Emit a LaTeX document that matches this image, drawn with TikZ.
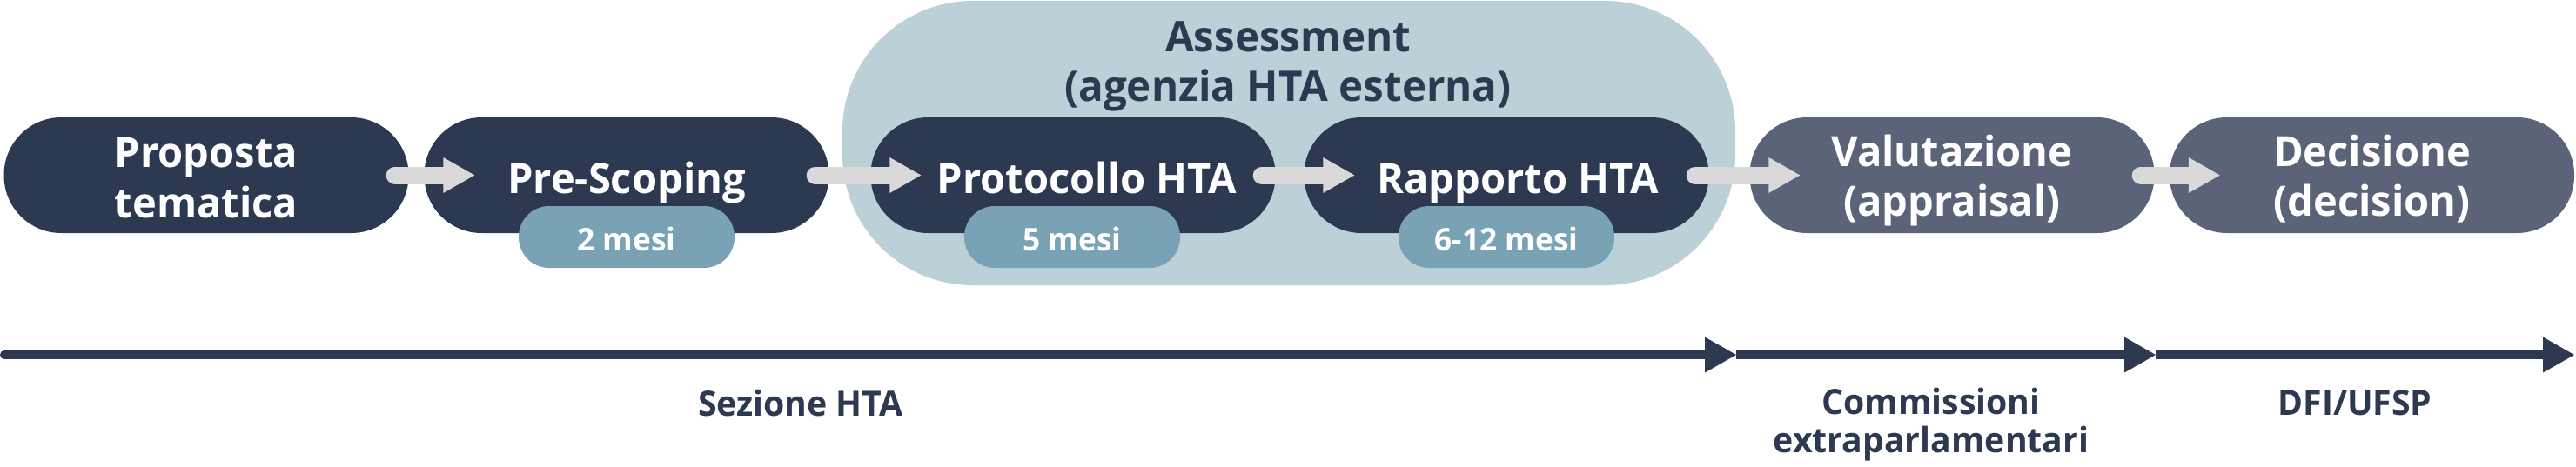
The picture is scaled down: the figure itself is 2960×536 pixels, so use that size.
\documentclass[tikz,border=0pt]{standalone}
\usepackage{fontspec}
\setmainfont{Open Sans}[FakeStretch=0.98]
\usetikzlibrary{arrows.meta}
\definecolor{navy}{HTML}{2D3851}
\definecolor{slate}{HTML}{5A6377}
\definecolor{bgblue}{HTML}{BCD0D8}
\definecolor{pillblue}{HTML}{79A2B4}
\definecolor{arrowgrey}{HTML}{D9D9D9}
\tikzset{
  stagebox/.style={rectangle, rounded corners=66pt, minimum width=465pt, minimum height=133pt, inner sep=0pt, fill=navy},
  laterbox/.style={stagebox, fill=slate},
  groupbg/.style={rectangle, rounded corners=150pt, minimum width=1026pt, minimum height=327pt, inner sep=0pt, fill=bgblue},
  pill/.style={rectangle, rounded corners=35pt, minimum width=248pt, minimum height=71pt, inner sep=0pt, fill=pillblue, text=white, font=\bfseries\fontsize{36}{40}\selectfont, text height=31pt, text depth=0pt},
  boxtxt/.style={text=white, font=\bfseries\fontsize{48}{58}\selectfont, inner sep=0pt, anchor=base},
  titletxt/.style={text=navy, font=\bfseries\fontsize{48.5}{56}\selectfont, inner sep=0pt, anchor=base},
  axistxt/.style={text=navy, font=\bfseries\fontsize{40}{44}\selectfont, inner sep=0pt, anchor=base},
  garrow/.style={draw=arrowgrey, line width=20pt, line cap=round, -{Triangle[length=36pt 0 0, width=41pt 0 0, line width=0pt 0 0]}},
  tline/.style={draw=navy, line width=10pt, -{Triangle[length=36pt 0 0, width=41pt 0 0, line width=0pt 0 0]}}
}
\begin{document}
\begin{tikzpicture}[x=1pt, y=-1pt]
\useasboundingbox[fill=white] (0,0) rectangle (2960,536);
% group background
\node[groupbg] (grp) at (1481,164.5) {};
% stage boxes
\node[stagebox] (b1) at (237,201.5) {};
\node[stagebox] (b2) at (720,201.5) {};
\node[stagebox] (b3) at (1233,201.5) {};
\node[stagebox] (b4) at (1731,201.5) {};
\node[laterbox] (b5) at (2243,201.5) {};
\node[laterbox] (b6) at (2725.5,201.5) {};
% duration pills
\node[pill] (p2) at (720,272.5) {2 mesi};
\node[pill] (p3) at (1232,272.5) {5 mesi};
\node[pill] (p4) at (1731,272.5) {6-12 mesi};
% grey arrows
\draw[garrow] ([xshift=-16pt]b1.east) -- ([xshift=58pt]b2.west);
\draw[garrow] ([xshift=-16pt]b2.east) -- ([xshift=58pt]b3.west);
\draw[garrow] ([xshift=-16pt]b3.east) -- ([xshift=58pt]b4.west);
\draw[garrow] ([xshift=-16pt]b4.east) -- ([xshift=58pt]b5.west);
\draw[garrow] ([xshift=-16pt]b5.east) -- ([xshift=58pt]b6.west);
% box texts
\node[boxtxt] (t1a) at (237,192) {Proposta};
\node[boxtxt] (t1b) at (237,250) {tematica};
\node[boxtxt] (t2) at (720,222) {Pre-Scoping};
\node[boxtxt] (t3) at (1249,222) {Protocollo HTA};
\node[boxtxt] (t4) at (1744,222) {Rapporto HTA};
\node[boxtxt] (t5a) at (2243,191) {Valutazione};
\node[boxtxt] (t5b) at (2243,248) {(appraisal)};
\node[boxtxt] (t6a) at (2725.5,191) {Decisione};
\node[boxtxt] (t6b) at (2725.5,248) {(decision)};
% group title
\node[titletxt] (gt1) at (1480,59) {Assessment};
\node[titletxt] (gt2) at (1480,116) {(agenzia HTA esterna)};
% timeline
\coordinate (l0) at (5,408);
\coordinate (l1) at (1995,408);
\coordinate (l2) at (2477,408);
\coordinate (l3) at (2958,408);
\draw[tline, line cap=round] (l0) -- (l1);
\draw[tline] (l1) -- (l2);
\draw[tline] (l2) -- (l3);
% timeline labels
\node[axistxt] (s1) at (920,478) {Sezione HTA};
\node[axistxt] (s2a) at (2219,476) {Commissioni};
\node[axistxt] (s2b) at (2219,520) {extraparlamentari};
\node[axistxt] (s3) at (2706,477) {DFI/UFSP};
\end{tikzpicture}
\end{document}
